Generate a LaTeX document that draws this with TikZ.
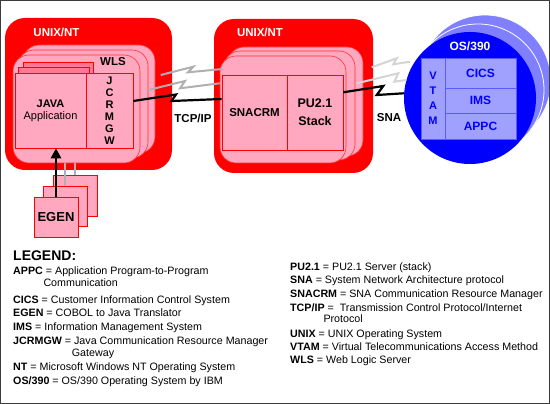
\documentclass[tikz,border=0pt]{standalone}
\usepackage{fontspec}
\setmainfont{Liberation Sans}
\usetikzlibrary{arrows.meta,calc}
\definecolor{pinkf}{RGB}{255,168,192}
\definecolor{pinkd}{RGB}{255,120,150}
\definecolor{redf}{RGB}{255,0,0}
\definecolor{lblue}{RGB}{128,128,255}
\definecolor{boxblue}{RGB}{160,160,255}
\definecolor{boxline}{RGB}{90,90,255}
\definecolor{grayA}{RGB}{176,176,176}
\definecolor{grayB}{RGB}{212,212,212}
\definecolor{framec}{RGB}{60,60,60}
\tikzset{
  sz/.style 2 args={minimum width=#1pt, minimum height=#2pt},
  redbox/.style={fill=redf, rounded corners=20pt, inner sep=0pt},
  pinklayer/.style={fill=pinkf, draw=redf!80, line width=0.6pt, rounded corners=16pt, inner sep=0pt},
  pinkrect/.style={fill=pinkf, draw=redf, line width=0.6pt, inner sep=0pt},
  backrect/.style={fill=pinkd, draw=redf, line width=0.6pt, inner sep=0pt},
  bluerect/.style={fill=boxblue, draw=boxline, line width=0.6pt, inner sep=0pt,
     text=blue, font=\fontsize{12}{14}\selectfont\bfseries},
  backcirc/.style={circle, fill=lblue, draw=white, line width=0.8pt, minimum size=132pt, inner sep=0pt},
  lbl/.style={font=\fontsize{11.5}{13}\selectfont\bfseries, inner sep=0pt, align=center},
  leg/.style={font=\fontsize{10.7}{12}\selectfont, inner sep=0pt, anchor=base west},
  bolt/.style={line width=2.2pt, black, line join=miter},
  boltA/.style={line width=2pt, grayA, line join=miter},
  boltB/.style={line width=2pt, grayB, line join=miter},
  stub/.style={line width=2pt, grayA},
}
\begin{document}
\begin{tikzpicture}[x=1pt,y=-1pt]
\useasboundingbox (0,0) rectangle (550,404);
\fill[white] (0,0) rectangle (550,404);

% ---------- left UNIX/NT ----------
\node[redbox, sz={167}{152}] (unixL) at (88.5,94) {};
\node[lbl, text=white] (unixLt) at (56.5,32) {UNIX/NT};
\node[pinklayer, sz={132}{108}] (pinkL3) at (89,99) {};
\node[pinklayer, sz={130}{108}] (pinkL2) at (83,104) {};
\node[pinklayer, sz={127}{108}] (pinkL1) at (76.5,109) {};
\node[lbl] (wls) at (113,62) {WLS};
\node[backrect, sz={70}{78}] (javaB2) at (58,101) {};
\node[backrect, sz={71}{78}] (javaB1) at (53.5,106) {};
\node[pinkrect, sz={71}{75}, font=\fontsize{11}{12}\selectfont, align=center] (javaF) at (50.5,110.5)
   {\textbf{JAVA}\\Application};
\node[pinkrect, sz={47}{75}, font=\fontsize{11}{12}\selectfont\bfseries, align=center] (jc) at (109.5,110.5)
   {J\\C\\R\\M\\G\\W};

% ---------- middle UNIX/NT ----------
\node[redbox, sz={159}{154}] (unixM) at (293.5,96) {};
\node[lbl, text=white] (unixMt) at (260,32) {UNIX/NT};
\node[pinklayer, sz={135}{109}] (pinkM3) at (295.5,101.5) {};
\node[pinklayer, sz={131}{109}] (pinkM2) at (289.5,105.5) {};
\node[pinklayer, sz={126}{107}] (pinkM1) at (283,109.5) {};
\node[pinkrect, sz={65}{75}, lbl, inner sep=0pt] (snacrm) at (254.5,112.5) {SNACRM};
\node[pinkrect, sz={56}{75}, font=\fontsize{12.5}{18}\selectfont\bfseries, align=center] (pu) at (315,112.5) {PU2.1\\Stack};

% ---------- OS/390 ----------
\node[backcirc] (osB2) at (485,81) {};
\node[backcirc] (osB1) at (478,90) {};
\node[circle, fill=blue, minimum size=132pt, inner sep=0pt] (os) at (470,98) {};
\node[lbl, text=white, font=\fontsize{12}{14}\selectfont\bfseries] (ost) at (470,46) {OS/390};
\node[bluerect, sz={24}{81}, align=center, font=\fontsize{11}{15}\selectfont\bfseries] (vtam) at (433,98.5) {V\\T\\A\\M};
\node[bluerect, sz={71}{30}] (cics) at (480.5,73) {CICS};
\node[bluerect, sz={71}{25}] (ims) at (480.5,100.5) {IMS};
\node[bluerect, sz={71}{26}] (appc) at (480.5,126) {APPC};

% ---------- connectors ----------
\coordinate (gL1a) at (160.7,75);
\coordinate (gL1b) at (222.7,69);
\draw[boltA] (gL1a) -- (193.3,66.7) -- (188,72.3) -- (gL1b);
\draw[boltA] ($(pinkL2.east)+(0,-14)$) -- (185,81) -- (180,88.3) -- ($(pinkM1.west)+(0,-26.2)$);
\draw[bolt] ($(jc.east)+(0,-9.5)$) -- (176,94.5) -- (171.5,101) -- ($(snacrm.west)+(0,-13.5)$);
\node[lbl] (tcp) at (193,118) {TCP/IP};

\coordinate (gR1a) at (371.7,67.3);
\coordinate (gR1b) at (410,61.7);
\draw[boltB] (gR1a) -- (396.7,58.3) -- (393.3,64.3) -- (gR1b);
\coordinate (gR2a) at (356.7,83.3);
\draw[boltB] (gR2a) -- (398.3,73.3) -- (394.3,81.7) -- ($(os.west)+(2.7,-18)$);
\draw[bolt] ($(pu.east)+(0,-20.2)$) -- (383.3,86) -- (376.7,95) -- ($(os.west)+(0,-4.7)$);
\node[lbl] (sna) at (389,118) {SNA};

% ---------- EGEN ----------
\node[pinkrect, sz={44}{41}] (egen3) at (75,195.5) {};
\draw[stub] (egen3.north) -- (egen3.north |- pinkL1.south);
\node[pinkrect, sz={44}{40}] (egen2) at (65,206) {};
\draw[stub] (egen2.north) -- (egen2.north |- pinkL1.south);
\node[pinkrect, sz={44}{40}, font=\fontsize{13}{14}\selectfont\bfseries] (egen1) at (56,217) {EGEN};
\draw[line width=2.8pt, -{Triangle[width=10pt,length=10pt]}] (egen1.north) -- (egen1.north |- javaF.south);

% ---------- legend ----------
\node[leg, font=\fontsize{14}{16}\selectfont\bfseries] (legt) at (13,260) {LEGEND:};
\node[leg] (l1) at (13,274.8) {\textbf{APPC} = Application Program-to-Program};
\node[leg] (l1b) at (43.3,286.2) {Communication};
\node[leg] (l2) at (13,303.2) {\textbf{CICS} = Customer Information Control System};
\node[leg] (l3) at (13,316.5) {\textbf{EGEN} = COBOL to Java Translator};
\node[leg] (l4) at (13,330.8) {\textbf{IMS} = Information Management System};
\node[leg] (l5) at (13,344.8) {\textbf{JCRMGW} = Java Communication Resource Manager};
\node[leg] (l5b) at (71.7,356.5) {Gateway};
\node[leg] (l6) at (13,370.5) {\textbf{NT} = Microsoft Windows NT Operating System};
\node[leg] (l7) at (13,384.2) {\textbf{OS/390} = OS/390 Operating System by IBM};

\node[leg] (r1) at (290,270.2) {\textbf{PU2.1} = PU2.1 Server (stack)};
\node[leg] (r2) at (290,283.8) {\textbf{SNA} = System Network Architecture protocol};
\node[leg] (r3) at (290,297.2) {\textbf{SNACRM} = SNA Communication Resource Manager};
\node[leg] (r4) at (290,311) {\textbf{TCP/IP} = \ Transmission Control Protocol/Internet};
\node[leg] (r4b) at (323.3,323) {Protocol};
\node[leg] (r5) at (290,337.2) {\textbf{UNIX} = UNIX Operating System};
\node[leg] (r6) at (290,350.7) {\textbf{VTAM} = Virtual Telecommunications Access Method};
\node[leg] (r7) at (290,363.8) {\textbf{WLS} = Web Logic Server};

\draw[framec, line width=1pt] (0.5,0.5) rectangle (549.5,403.5);
\end{tikzpicture}
\end{document}
